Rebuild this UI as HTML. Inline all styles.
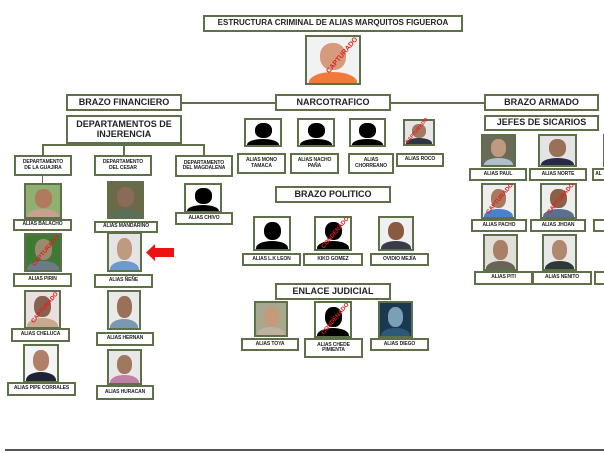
<!DOCTYPE html>
<html><head><meta charset="utf-8"><style>
body{margin:0;width:604px;height:453px;background:#fff;position:relative;overflow:hidden;font-family:"Liberation Sans",sans-serif}
.b{position:absolute;box-sizing:border-box;border:2px solid #5d7049;background:#fff;display:flex;align-items:center;justify-content:center;text-align:center;font-weight:bold;color:#222;line-height:1.1}
.h{font-size:9px}
.t{font-size:5px;letter-spacing:-0.1px}
.p{position:absolute;box-sizing:border-box;border:2px solid #5d7049;background:var(--c);overflow:hidden}
.p::after{content:"";position:absolute;left:3%;right:3%;bottom:-20%;height:45%;border-radius:50% 50% 0 0;background:var(--s)}
.p::before{content:"";position:absolute;left:25%;width:50%;top:12%;height:60%;border-radius:45%;background:var(--k);z-index:1}
.s{--c:#fff;--k:#000;--s:#000}
.l{position:absolute;background:#5d7049}
.st{position:absolute;color:#e0201c;font-size:6px;font-weight:bold;transform:rotate(-50deg);z-index:2;white-space:nowrap}
</style></head><body>
<div class="b h" style="left:203px;top:15px;width:260px;height:17px;font-size:8px">ESTRUCTURA CRIMINAL DE ALIAS MARQUITOS FIGUEROA</div>
<div class="p" style="left:305px;top:35px;width:56px;height:50px;--c:#f2f2f2;--k:#d79a7c;--s:#f07a3c"></div>
<div class="st" style="left:320px;top:52px;font-size:7px">CAPTURADO</div>

<div class="l" style="left:181px;top:102px;width:97px;height:2px"></div>
<div class="l" style="left:390px;top:102px;width:94px;height:2px"></div>
<div class="b h" style="left:66px;top:94px;width:116px;height:17px">BRAZO FINANCIERO</div>
<div class="b h" style="left:275px;top:94px;width:116px;height:17px">NARCOTRAFICO</div>
<div class="b h" style="left:484px;top:94px;width:115px;height:17px">BRAZO ARMADO</div>
<div class="b h" style="left:484px;top:115px;width:115px;height:16px">JEFES DE SICARIOS</div>
<div class="b h" style="left:66px;top:115px;width:116px;height:29px">DEPARTAMENTOS DE<br>INJERENCIA</div>

<div class="l" style="left:42px;top:144px;width:162px;height:2px"></div>
<div class="l" style="left:42px;top:144px;width:2px;height:11px"></div>
<div class="l" style="left:123px;top:144px;width:2px;height:11px"></div>
<div class="l" style="left:203px;top:144px;width:2px;height:11px"></div>
<div class="b t" style="left:14px;top:155px;width:58px;height:21px">DEPARTAMENTO<br>DE LA GUAJIRA</div>
<div class="b t" style="left:94px;top:155px;width:58px;height:21px">DEPARTAMENTO<br>DEL CESAR</div>
<div class="b t" style="left:175px;top:155px;width:58px;height:22px">DEPARTAMENTO<br>DEL MAGDALENA</div>
<div class="l" style="left:42px;top:176px;width:1px;height:7px"></div>

<div class="p" style="left:24px;top:183px;width:38px;height:36px;--c:#8fb070;--k:#b07a5e;--s:#c8a090"></div>
<div class="b t" style="left:13px;top:219px;width:59px;height:12px">ALIAS BALACHO</div>
<div class="p" style="left:24px;top:233px;width:38px;height:39px;--c:#3f7a34;--k:#9a8a70;--s:#6c7a8a"></div>
<div class="st" style="left:27px;top:248px">CAPTURADO</div>
<div class="b t" style="left:13px;top:273px;width:59px;height:14px">ALIAS PIRIN</div>
<div class="p" style="left:24px;top:290px;width:37px;height:39px;--c:#eadfe0;--k:#8a6050;--s:#c8a890"></div>
<div class="st" style="left:26px;top:305px">CAPTURADO</div>
<div class="b t" style="left:11px;top:328px;width:59px;height:14px">ALIAS CHELUCA</div>
<div class="p" style="left:23px;top:344px;width:36px;height:39px;--c:#f4f4f4;--k:#b08068;--s:#1e2433"></div>
<div class="b t" style="left:7px;top:382px;width:69px;height:14px">ALIAS PIPE CORRALES</div>

<div class="p" style="left:107px;top:181px;width:37px;height:38px;--c:#6b6a48;--k:#8a6a58;--s:#5a6e58"></div>
<div class="b t" style="left:94px;top:221px;width:64px;height:12px">ALIAS MANDARINO</div>
<div class="p" style="left:107px;top:232px;width:35px;height:40px;--c:#e4e4e4;--k:#c09a80;--s:#6e9acb"></div>
<div class="b t" style="left:94px;top:274px;width:59px;height:14px">ALIAS ÑEÑE</div>
<svg style="position:absolute;left:146px;top:244px" width="29" height="17"><polygon points="0,8.5 9,0 9,4 28,4 28,13 9,13 9,17" fill="#ee1111"/></svg>
<div class="p" style="left:107px;top:290px;width:34px;height:40px;--c:#eaeaea;--k:#9a7058;--s:#7a98b0"></div>
<div class="b t" style="left:96px;top:332px;width:58px;height:14px">ALIAS HERNAN</div>
<div class="p" style="left:107px;top:349px;width:35px;height:36px;--c:#e8e8e8;--k:#a07860;--s:#c080a8"></div>
<div class="b t" style="left:96px;top:385px;width:58px;height:15px">ALIAS HURACAN</div>

<div class="p s" style="left:184px;top:183px;width:38px;height:30px"></div>
<div class="b t" style="left:175px;top:212px;width:58px;height:13px">ALIAS CHIVO</div>

<div class="p s" style="left:244px;top:118px;width:38px;height:29px"></div>
<div class="b t" style="left:237px;top:153px;width:49px;height:21px">ALIAS MONO<br>TAMACA</div>
<div class="p s" style="left:297px;top:118px;width:38px;height:29px"></div>
<div class="b t" style="left:290px;top:153px;width:49px;height:21px">ALIAS NACHO<br>PAÑA</div>
<div class="p s" style="left:349px;top:118px;width:37px;height:29px"></div>
<div class="b t" style="left:348px;top:153px;width:46px;height:21px">ALIAS<br>CHORREANO</div>
<div class="p" style="left:403px;top:119px;width:32px;height:27px;--c:#e6e6e6;--k:#a07a62;--s:#2e3440"></div>
<div class="st" style="left:401px;top:128px;font-size:5px">CAPTURADO</div>
<div class="b t" style="left:396px;top:153px;width:48px;height:14px">ALIAS ROCO</div>

<div class="b h" style="left:275px;top:186px;width:116px;height:17px">BRAZO POLITICO</div>
<div class="p s" style="left:253px;top:216px;width:38px;height:35px"></div>
<div class="b t" style="left:242px;top:253px;width:59px;height:13px">ALIAS L.K LEON</div>
<div class="p s" style="left:314px;top:216px;width:38px;height:35px"></div>
<div class="st" style="left:316px;top:230px">CONDENADO</div>
<div class="b t" style="left:303px;top:253px;width:60px;height:13px">KIKO GOMEZ</div>
<div class="p" style="left:378px;top:216px;width:36px;height:35px;--c:#f0f0f0;--k:#8a5a40;--s:#3a3a48"></div>
<div class="b t" style="left:370px;top:253px;width:59px;height:13px">OVIDIO MEJÍA</div>

<div class="b h" style="left:275px;top:283px;width:116px;height:17px">ENLACE JUDICIAL</div>
<div class="p" style="left:254px;top:301px;width:34px;height:36px;--c:#a8a890;--k:#c49a78;--s:#c0b0a0"></div>
<div class="b t" style="left:241px;top:338px;width:58px;height:13px">ALIAS TOYA</div>
<div class="p s" style="left:314px;top:301px;width:38px;height:37px"></div>
<div class="st" style="left:316px;top:316px">CONDENADO</div>
<div class="b t" style="left:304px;top:338px;width:59px;height:20px">ALIAS CHEDE<br>PIMIENTA</div>
<div class="p" style="left:378px;top:301px;width:35px;height:37px;--c:#1c3850;--k:#7aa0b8;--s:#2e5878"></div>
<div class="b t" style="left:370px;top:338px;width:59px;height:13px">ALIAS DIEGO</div>

<div class="p" style="left:481px;top:134px;width:35px;height:33px;--c:#6a6a58;--k:#c09a80;--s:#b0c0c8"></div>
<div class="b t" style="left:469px;top:168px;width:58px;height:13px">ALIAS PAUL</div>
<div class="p" style="left:538px;top:134px;width:39px;height:33px;--c:#e4e4e4;--k:#9a7058;--s:#2a2a48"></div>
<div class="b t" style="left:529px;top:168px;width:58px;height:13px">ALIAS NORTE</div>
<div class="b t" style="left:592px;top:168px;width:20px;height:13px;justify-content:flex-start">&nbsp;AL</div>
<div class="p" style="left:603px;top:134px;width:10px;height:33px;--c:#e4e4e4;--k:#e4e4e4;--s:#e4e4e4"></div>
<div class="p" style="left:481px;top:183px;width:35px;height:36px;--c:#eeeeee;--k:#a87860;--s:#4a80d0"></div>
<div class="st" style="left:481px;top:196px">CAPTURADO</div>
<div class="b t" style="left:471px;top:219px;width:56px;height:13px">ALIAS PACHO</div>
<div class="p" style="left:540px;top:183px;width:37px;height:36px;--c:#eeeeee;--k:#8a6048;--s:#5a7090"></div>
<div class="st" style="left:542px;top:196px">CAPTURADO</div>
<div class="b t" style="left:530px;top:219px;width:56px;height:13px">ALIAS JHOAN</div>
<div class="b t" style="left:593px;top:219px;width:20px;height:13px"></div>
<div class="p" style="left:483px;top:234px;width:35px;height:37px;--c:#e0e0d8;--k:#a88068;--s:#6a6458"></div>
<div class="b t" style="left:474px;top:271px;width:59px;height:14px">ALIAS PITI</div>
<div class="p" style="left:542px;top:234px;width:35px;height:37px;--c:#e8e8e8;--k:#b08870;--s:#2e3838"></div>
<div class="b t" style="left:532px;top:271px;width:60px;height:14px">ALIAS NENITO</div>
<div class="b t" style="left:594px;top:271px;width:20px;height:14px"></div>

<div style="position:absolute;left:5px;top:449px;width:599px;height:2px;background:#555"></div>
</body></html>
